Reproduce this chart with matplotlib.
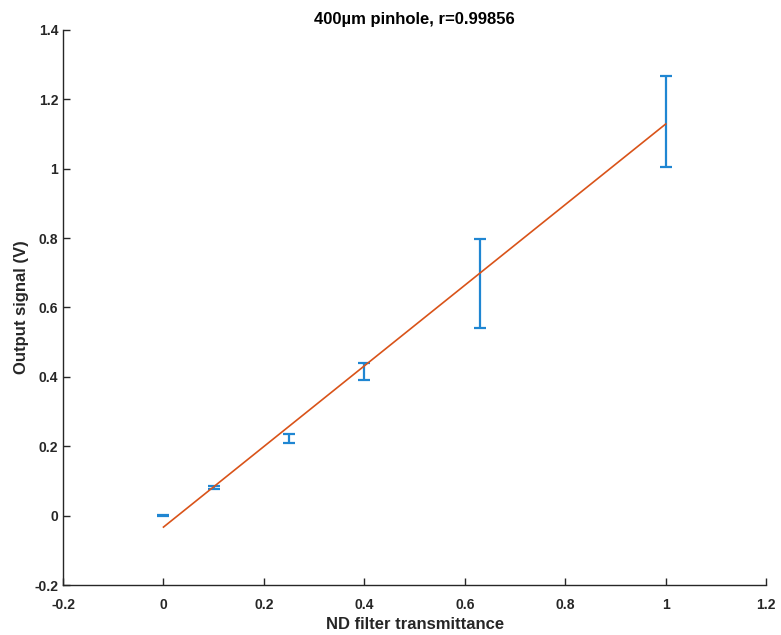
import numpy as np
import matplotlib.pyplot as plt

plt.rcParams['font.family'] = ['Liberation Sans', 'DejaVu Sans']
plt.rcParams['font.weight'] = 'bold'

# measured points (transmittance, output signal, error)
transmittance = [0, 0.1, 0.25, 0.4, 0.63, 1.0]
signal = [0.0, 0.081, 0.2225, 0.415, 0.67, 1.137]
signal_err = [0.001, 0.004, 0.012, 0.025, 0.128, 0.131]

# linear fit coefficients
fit_slope = 1.162
fit_intercept = -0.033

fig = plt.figure(figsize=(7.81, 6.35), dpi=100)
ax = fig.add_axes([0.0807, 0.0787, 0.9003, 0.8741])

ax.errorbar(transmittance, signal, yerr=signal_err, fmt='none',
            ecolor='#1F86D2', elinewidth=1.6, capsize=4, capthick=1.6)
xfit = np.array([transmittance[0], transmittance[-1]])
ax.plot(xfit, fit_slope * xfit + fit_intercept, color='#D95319', lw=1.2)

ax.set_xlim(-0.2, 1.2)
ax.set_ylim(-0.2, 1.4)
ax.set_xticks(np.arange(-0.2, 1.21, 0.2))
ax.set_yticks(np.arange(-0.2, 1.41, 0.2))
ax.set_xticklabels(['-0.2', '0', '0.2', '0.4', '0.6', '0.8', '1', '1.2'])
ax.set_yticklabels(['-0.2', '0', '0.2', '0.4', '0.6', '0.8', '1', '1.2', '1.4'])
ax.tick_params(direction='in', length=5, width=1, labelsize=10, colors='#262626')
ax.tick_params(axis='x', pad=9)
for s in ['top', 'right']:
    ax.spines[s].set_visible(False)
for s in ['left', 'bottom']:
    ax.spines[s].set_color('#262626')
    ax.spines[s].set_linewidth(1)

ax.set_xlabel('ND filter transmittance', fontsize=12, fontweight='bold', color='#262626')
ax.set_ylabel('Output signal (V)', fontsize=12, fontweight='bold', color='#262626')
ax.set_title('400µm pinhole, r=0.99856', fontsize=12, fontweight='bold', pad=4)

fig.savefig('out.png', dpi=100)
